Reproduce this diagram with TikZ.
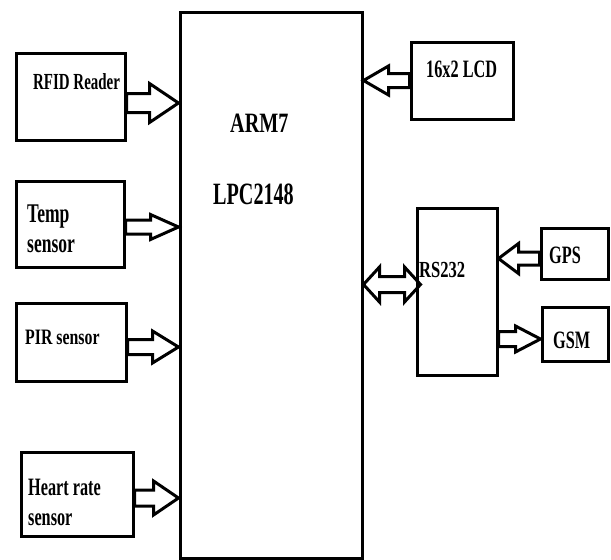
\documentclass[tikz,border=0pt]{standalone}
\usepackage{fontspec}
\newfontfamily\blockfont{Liberation Serif}[FakeStretch=0.65]
\newfontfamily\wideblockfont{Liberation Serif}[FakeStretch=0.72]
\usetikzlibrary{calc}

\begin{document}
\begin{tikzpicture}[
  x=1pt, y=-1pt,
  block/.style={draw, rectangle, line width=3pt, inner sep=0pt},
  lbl/.style={font=\blockfont\bfseries\fontsize{#1}{30}\selectfont,
    anchor=base west, inner sep=0pt, align=left},
  widelbl/.style={lbl=#1, font=\wideblockfont\bfseries\fontsize{#1}{30}\selectfont},
  fatshaft/.store in=\fatshaft, fathead/.store in=\fathead, fatlen/.store in=\fatlen,
  fatshaft=7.5pt, fathead=15pt, fatlen=25pt,
  fat/.style={draw, line width=3pt, to path={
    let \p1=(\tikztostart), \p2=(\tikztotarget), \n1={sign(\x2-\x1)} in
    (\x1,\y1+\fatshaft) -- (\x2-\n1*\fatlen,\y1+\fatshaft) -- (\x2-\n1*\fatlen,\y1+\fathead)
    -- (\x2,\y1) -- (\x2-\n1*\fatlen,\y1-\fathead) -- (\x2-\n1*\fatlen,\y1-\fatshaft)
    -- (\x1,\y1-\fatshaft) -- cycle}},
  dfat/.style={draw, line width=3pt, to path={
    let \p1=(\tikztostart), \p2=(\tikztotarget), \n1={sign(\x2-\x1)} in
    (\x1,\y1) -- (\x1+\n1*\fatlen,\y1+\fathead) -- (\x1+\n1*\fatlen,\y1+\fatshaft)
    -- (\x2-\n1*\fatlen,\y1+\fatshaft) -- (\x2-\n1*\fatlen,\y1+\fathead) -- (\x2,\y1)
    -- (\x2-\n1*\fatlen,\y1-\fathead) -- (\x2-\n1*\fatlen,\y1-\fatshaft)
    -- (\x1+\n1*\fatlen,\y1-\fatshaft) -- (\x1+\n1*\fatlen,\y1-\fathead) -- cycle}}
]
\useasboundingbox (0,0) rectangle (611,560);

% blocks
\node[block, minimum width=182pt, minimum height=546pt] (arm) at (271,285) {};
\node[block, minimum width=109pt, minimum height=87pt] (rfid) at (70.5,96.5) {};
\node[block, minimum width=108pt, minimum height=86pt] (temp) at (70,224) {};
\node[block, minimum width=110pt, minimum height=78pt] (pir) at (71,342) {};
\node[block, minimum width=112pt, minimum height=84pt] (heart) at (77,494) {};
\node[block, minimum width=102pt, minimum height=77pt] (lcd) at (462,80.5) {};
\node[block, minimum width=80pt, minimum height=167pt] (rs) at (457,291.5) {};
\node[block, minimum width=67pt, minimum height=51pt] (gps) at (574.5,253.5) {};
\node[block, minimum width=66pt, minimum height=54pt] (gsm) at (575,334) {};

% labels (two-line ones sit on their last baseline)
\node[widelbl=28] (armtxt) at (230,132) {ARM7};
\node[lbl=31] (lpctxt) at (213,204) {LPC2148};
\node[lbl=23] (rfidtxt) at (33,89) {RFID Reader};
\node[lbl=27] (temptxt) at (27,252) {Temp\\sensor};
\node[widelbl=22] (pirtxt) at (25,344) {PIR sensor};
\node[lbl=25] (hearttxt) at (28,525) {Heart rate\\sensor};
\node[lbl=25] (lcdtxt) at (426,77) {16x2 LCD};
\node[widelbl=23] (rstxt) at (419,277) {RS232};
\node[lbl=25] (gpstxt) at (549,263) {GPS};
\node[lbl=25] (gsmtxt) at (553,348) {GSM};

% arrows
\draw[fat, fatshaft=9.5pt, fathead=19.5pt, fatlen=29pt]
  ([yshift=-6.5pt]rfid.east) to ([yshift=-6.5pt]rfid.east -| arm.west);
\draw[fat, fatshaft=7pt, fathead=12.5pt, fatlen=28pt]
  ([yshift=-3pt]temp.east) to ([yshift=-3pt]temp.east -| arm.west);
\draw[fat, fathead=16pt, fatlen=26pt]
  ([yshift=-5pt]pir.east) to ([yshift=-5pt]pir.east -| arm.west);
\draw[fat, fatshaft=8pt, fathead=17pt]
  ([yshift=-4pt]heart.east) to ([yshift=-4pt]heart.east -| arm.west);
\draw[fat, fatshaft=7pt, fathead=14.5pt] (lcd.west) to (lcd.west -| arm.east);
\draw[dfat, fatshaft=8pt, fathead=17.5pt, fatlen=16pt]
  ([yshift=7pt]rs.west -| arm.east) to ([shift={(5pt,7pt)}]rs.west);
\draw[fat, fatshaft=6.5pt, fatlen=20pt]
  ([yshift=-5pt]gps.west) to ([yshift=-5pt]gps.west -| rs.east);
\draw[fat, fathead=13pt]
  ([yshift=-5pt]gsm.west -| rs.east) to ([yshift=-5pt]gsm.west);
\end{tikzpicture}
\end{document}
